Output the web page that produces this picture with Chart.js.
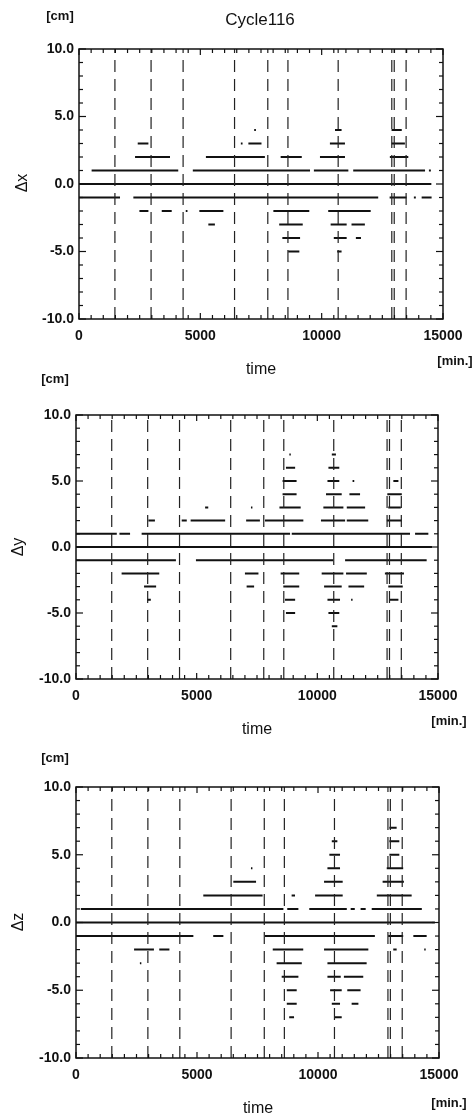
<!DOCTYPE html>
<html>
<head>
<meta charset="utf-8">
<script src="https://cdn.jsdelivr.net/npm/chart.js@4.4.0/dist/chart.umd.min.js"></script>
<style>
    body { margin: 0; background: #fff; }
    #page { position: relative; width: 475px; height: 1115px; font-family: "Liberation Sans", Arial, sans-serif; color: #111; }
    .panel { position: absolute; left: 0; width: 475px; }
    .txt { position: absolute; white-space: nowrap; transform: translate(-50%, -50%); }
    .unit { font-size: 13px; font-weight: bold; }
    .axis { font-size: 16px; }
    .rot { transform: translate(-50%, -50%) rotate(-90deg); }
</style>
</head>
<body>
<div id="page">
    <div class="panel" style="top:0;height:365px"><canvas id="chartX"></canvas></div>
    <div class="panel" style="top:365px;height:370px"><canvas id="chartY"></canvas></div>
    <div class="panel" style="top:735px;height:380px"><canvas id="chartZ"></canvas></div>

    <div class="txt unit" style="left:60px;top:15px">[cm]</div>
    <div class="txt" style="left:260px;top:20px;font-size:17px">Cycle116</div>
    <div class="txt axis rot" style="left:22px;top:183px">Δx</div>
    <div class="txt axis" style="left:261px;top:369px">time</div>
    <div class="txt unit" style="left:455px;top:360px">[min.]</div>

    <div class="txt unit" style="left:55px;top:378px">[cm]</div>
    <div class="txt axis rot" style="left:18px;top:547px">Δy</div>
    <div class="txt axis" style="left:257px;top:729px">time</div>
    <div class="txt unit" style="left:449px;top:720px">[min.]</div>

    <div class="txt unit" style="left:55px;top:757px">[cm]</div>
    <div class="txt axis rot" style="left:18px;top:922px">Δz</div>
    <div class="txt axis" style="left:258px;top:1108px">time</div>
    <div class="txt unit" style="left:449px;top:1102px">[min.]</div>
</div>

<script>
// --- Daten ---

// Zeitpunkte der senkrechten gestrichelten Linien [min.]
const eventTimes = [1480, 2970, 4290, 6410, 7780, 8610, 10680, 12890, 12990, 13480];

// Waagrechte Abschnitte: [Wert in cm, Start, Ende]
const dxSegments = [
    [1, 520, 4090], [1, 4690, 9520], [1, 9680, 11100], [1, 11300, 14260], [1, 14420, 14500],
    [0, 0, 14520],
    [-1, 0, 1690], [-1, 2240, 12330], [-1, 12800, 13500], [-1, 13800, 13880], [-1, 14120, 14530],
    [-2, 2490, 2860], [-2, 3410, 3820], [-2, 4400, 4470], [-2, 4960, 5950], [-2, 8010, 9490], [-2, 10270, 12020],
    [-3, 5330, 5600], [-3, 8250, 9220], [-3, 10370, 11030], [-3, 11230, 11780],
    [-4, 8380, 9110], [-4, 10500, 11030], [-4, 11410, 11620],
    [-5, 8620, 9080], [-5, 10640, 10820],
    [2, 2310, 3750], [2, 5230, 7660], [2, 8310, 9180], [2, 9930, 10960], [2, 12810, 13570],
    [3, 2420, 2860], [3, 6670, 6740], [3, 6980, 7520], [3, 10340, 10960], [3, 12880, 13430],
    [4, 7220, 7290], [4, 10550, 10820], [4, 12880, 13300]
];

const dySegments = [
    [1, 0, 1690], [1, 1800, 2240], [1, 2720, 8870], [1, 8940, 13840], [1, 14050, 14600],
    [0, 0, 14750],
    [-1, 0, 4140], [-1, 4970, 10660], [-1, 11150, 14530],
    [2, 3000, 3270], [2, 4380, 4590], [2, 4750, 6180], [2, 7050, 7620], [2, 7830, 9420],
    [2, 10150, 11150], [2, 11220, 12110], [2, 12880, 13500],
    [3, 5350, 5480], [3, 7250, 7310], [3, 8430, 9310], [3, 10250, 11080], [3, 11220, 11980], [3, 12940, 13460],
    [4, 8560, 9140], [4, 10360, 11010], [4, 11330, 11770], [4, 12900, 13500],
    [5, 8560, 9140], [5, 10420, 10910], [5, 11460, 11530], [5, 13150, 13360],
    [6, 8700, 9080], [6, 10460, 10910],
    [7, 8840, 8900], [7, 10600, 10770],
    [-2, 1890, 3450], [-2, 7000, 7560], [-2, 8480, 9250], [-2, 10180, 11080], [-2, 11190, 12050], [-2, 12800, 13590],
    [-3, 2820, 3320], [-3, 7070, 7380], [-3, 8590, 9250], [-3, 10280, 11010], [-3, 11290, 11940], [-3, 12940, 13540],
    [-4, 2950, 3100], [-4, 8660, 9080], [-4, 10420, 10940], [-4, 11400, 11460], [-4, 13010, 13360],
    [-5, 8700, 9080], [-5, 10460, 10910],
    [-6, 10600, 10830]
];

const dzSegments = [
    [1, 200, 8570], [1, 8730, 9190], [1, 9640, 11190], [1, 11350, 11520], [1, 11760, 11970], [1, 12220, 14290],
    [0, 0, 14830],
    [-1, 0, 4850], [-1, 5670, 6090], [-1, 7810, 12350], [-1, 12900, 13520], [-1, 13940, 14490],
    [2, 5260, 7710], [2, 8910, 9050], [2, 9880, 11020], [2, 12430, 13870],
    [3, 6500, 7440], [3, 10250, 11020], [3, 12670, 13550],
    [4, 7230, 7290], [4, 10390, 10910], [4, 12840, 13520],
    [5, 10470, 10910], [5, 12950, 13360],
    [6, 10570, 10800], [6, 12950, 13360],
    [7, 12950, 13250],
    [-2, 2400, 3220], [-2, 3440, 3860], [-2, 8130, 9390], [-2, 10250, 12080], [-2, 13110, 13250], [-2, 14390, 14450],
    [-3, 2640, 2700], [-3, 8290, 9330], [-3, 10390, 12010],
    [-4, 8500, 9190], [-4, 10390, 10940], [-4, 11070, 11870],
    [-5, 8710, 9120], [-5, 10500, 10980], [-5, 11210, 11760],
    [-6, 8710, 9120], [-6, 10570, 10910], [-6, 11390, 11670],
    [-7, 8810, 9010], [-7, 10700, 10980]
];

// Achsen
const xTickValues = [0, 5000, 10000, 15000];
const yTickValues = [-10, -5, 0, 5, 10];
const xMinorStep = 500;
const yMinorStep = 1;

// --- Hilfsfunktionen ---

function segmentsToData(segs) {
    const pts = [];
    segs.forEach(([level, start, end]) => {
        pts.push({ x: start, y: level }, { x: end, y: level }, { x: end, y: null });
    });
    return pts;
}

function eventsToData(times) {
    const pts = [];
    times.forEach(t => {
        pts.push({ x: t, y: -10 }, { x: t, y: 10 }, { x: t, y: null });
    });
    return pts;
}

// Rahmen und nach innen zeigende Striche
const framePlugin = {
    id: 'frame',
    afterDatasetsDraw(chart) {
        const { ctx, chartArea: a, scales } = chart;
        const line = (x1, y1, x2, y2) => {
            ctx.beginPath();
            ctx.moveTo(x1, y1);
            ctx.lineTo(x2, y2);
            ctx.stroke();
        };
        ctx.save();
        ctx.strokeStyle = '#111';
        ctx.lineWidth = 1.5;
        ctx.strokeRect(a.left, a.top, a.right - a.left, a.bottom - a.top);
        ctx.lineWidth = 1.2;
        for (let v = -10; v <= 10; v += yMinorStep) {
            const py = scales.y.getPixelForValue(v);
            const len = yTickValues.includes(v) ? 7 : 4;
            line(a.left, py, a.left + len, py);
            line(a.right, py, a.right - len, py);
        }
        for (let v = 0; v <= 15000; v += xMinorStep) {
            const px = scales.x.getPixelForValue(v);
            const len = xTickValues.includes(v) ? 6 : 4;
            line(px, a.bottom, px, a.bottom - len);
            line(px, a.top, px, a.top + len);
        }
        ctx.restore();
    }
};

Chart.defaults.font.family = '"Liberation Sans", Arial, sans-serif';
Chart.defaults.color = '#111';

function renderPanel(id, segs, geo) {
    const ctx = document.getElementById(id).getContext('2d');
    const tickFont = { size: 14, weight: 'bold' };
    return new Chart(ctx, {
        type: 'line',
        data: {
            datasets: [
                {
                    data: eventsToData(eventTimes),
                    borderColor: '#222',
                    borderWidth: 1.2,
                    borderDash: [12, 7],
                    pointRadius: 0,
                    spanGaps: false
                },
                {
                    data: segmentsToData(segs),
                    borderColor: '#111',
                    borderWidth: 2,
                    pointRadius: 0,
                    spanGaps: false
                }
            ]
        },
        options: {
            animation: false,
            responsive: true,
            maintainAspectRatio: false,
            layout: { padding: { top: geo.top, right: geo.right, left: 0, bottom: 0 } },
            plugins: { legend: { display: false }, tooltip: { enabled: false } },
            scales: {
                x: {
                    type: 'linear',
                    min: 0,
                    max: 15000,
                    grid: { display: false, drawTicks: false },
                    border: { display: false },
                    ticks: {
                        stepSize: 5000,
                        autoSkip: false,
                        maxRotation: 0,
                        padding: 9,
                        font: tickFont,
                        callback: v => xTickValues.includes(v) ? String(v) : ''
                    },
                    afterFit: s => { s.height = geo.xHeight; }
                },
                y: {
                    min: -10,
                    max: 10,
                    grid: { display: false, drawTicks: false },
                    border: { display: false },
                    ticks: {
                        stepSize: 5,
                        autoSkip: false,
                        padding: 5,
                        font: tickFont,
                        callback: v => yTickValues.includes(v) ? v.toFixed(1) : ''
                    },
                    afterFit: s => { s.width = geo.yWidth; }
                }
            }
        },
        plugins: [framePlugin]
    });
}

document.addEventListener('DOMContentLoaded', function() {
    renderPanel('chartX', dxSegments, { top: 49, right: 32, xHeight: 46, yWidth: 79 });
    renderPanel('chartY', dySegments, { top: 50, right: 37, xHeight: 56, yWidth: 76 });
    renderPanel('chartZ', dzSegments, { top: 52, right: 36, xHeight: 57, yWidth: 76 });
});
</script>
</body>
</html>
